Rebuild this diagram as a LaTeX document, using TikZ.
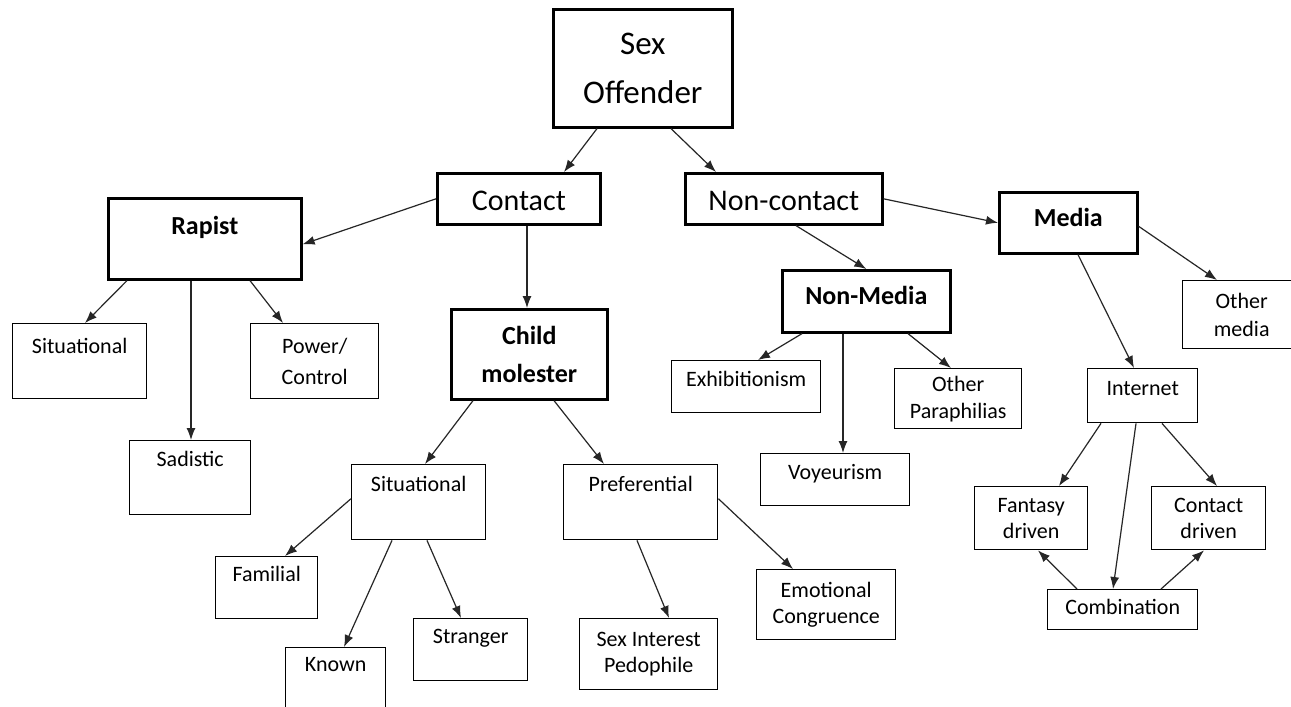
\documentclass[tikz,border=0pt]{standalone}
\usepackage{fontspec}
\setmainfont{Carlito}
\usetikzlibrary{arrows.meta}

\begin{document}
\begin{tikzpicture}[x=1pt, y=-1pt,
    box/.style={draw, rectangle, anchor=north west, inner sep=0pt, line width=1.4pt, align=center, font=\fontsize{22}{26}\selectfont},
    mainbox/.style={box, line width=2.6pt},
    boldtext/.style={font=\fontsize{26}{38}\selectfont\bfseries},
    link/.style={line width=1.2pt, draw=black!85, -{Latex[length=12pt,width=9pt]}}]
    \useasboundingbox[fill=white] (0,0) rectangle (1291,707); % page size

    % top levels
    \node[mainbox, minimum width=179pt, minimum height=118pt, font=\fontsize{33}{49}\selectfont] (offender) at (552,8) {Sex\\Offender};
    \node[mainbox, minimum width=163pt, minimum height=51pt, text height=37pt, text depth=14pt, font=\fontsize{30}{36}\selectfont] (contact) at (436,172) {Contact};
    \node[mainbox, minimum width=197pt, minimum height=51pt, text height=37pt, text depth=14pt, font=\fontsize{30}{36}\selectfont] (noncontact) at (684,172) {Non-contact};
    \node[mainbox, boldtext, minimum width=193pt, minimum height=81pt, text height=36pt, text depth=45pt] (rapist) at (107,197) {Rapist};
    \node[mainbox, boldtext, minimum width=156pt, minimum height=90pt] (child) at (450,308) {Child\\molester};
    \node[mainbox, boldtext, minimum width=138pt, minimum height=61pt, text height=34pt, text depth=27pt] (media) at (998,191) {Media};
    \node[mainbox, boldtext, minimum width=168pt, minimum height=62pt, text height=34pt, text depth=28pt] (nonmedia) at (781,269) {Non-Media};

    % rapist types
    \node[box, minimum width=134pt, minimum height=75pt, text height=30pt, text depth=45pt] (sitrapist) at (12,323) {Situational};
    \node[box, minimum width=128pt, minimum height=75pt, font=\fontsize{22}{31}\selectfont] (power) at (250,323) {Power/\\Control};
    \node[box, minimum width=121pt, minimum height=74pt, text height=26pt, text depth=48pt] (sadistic) at (129,440) {Sadistic};

    % child molester types
    \node[box, minimum width=134pt, minimum height=75pt, text height=27pt, text depth=48pt] (sitchild) at (351,464) {Situational};
    \node[box, minimum width=154pt, minimum height=75pt, text height=27pt, text depth=48pt] (preferential) at (563,464) {Preferential};
    \node[box, minimum width=102pt, minimum height=62pt, text height=25pt, text depth=37pt] (familial) at (215,556) {Familial};
    \node[box, minimum width=100pt, minimum height=78pt, text height=24pt, text depth=54pt] (known) at (285,647) {Known};
    \node[box, minimum width=114pt, minimum height=62pt, text height=25pt, text depth=37pt] (stranger) at (413,618) {Stranger};
    \node[box, minimum width=138pt, minimum height=71pt] (sexinterest) at (579,618) {Sex Interest\\Pedophile};
    \node[box, minimum width=139pt, minimum height=70pt] (emotional) at (756,569) {Emotional\\Congruence};

    % non-media types
    \node[box, minimum width=149pt, minimum height=52pt, text height=26pt, text depth=26pt] (exhib) at (671,360) {Exhibitionism};
    \node[box, minimum width=149pt, minimum height=52pt, text height=26pt, text depth=26pt] (voyeur) at (760,453) {Voyeurism};
    \node[box, minimum width=127pt, minimum height=60pt, font=\fontsize{22}{27}\selectfont] (otherpara) at (894,368) {Other\\Paraphilias};

    % media types
    \node[box, minimum width=118pt, minimum height=68pt, font=\fontsize{22}{28}\selectfont] (othermedia) at (1182,280) {Other\\media};
    \node[box, minimum width=110pt, minimum height=54pt, text height=27pt, text depth=27pt] (internet) at (1087,368) {Internet};
    \node[box, minimum width=113pt, minimum height=63pt] (fantasy) at (974,486) {Fantasy\\driven};
    \node[box, minimum width=114pt, minimum height=63pt] (contactdrv) at (1151,486) {Contact\\driven};
    \node[box, minimum width=150pt, minimum height=40pt, text height=25pt, text depth=15pt] (combination) at (1047,589) {Combination};

    % arrows
    \draw[link] ([xshift=45pt]offender.south west) -- ([xshift=128pt]contact.north west);
    \draw[link] ([xshift=119pt]offender.south west) -- ([xshift=32pt]noncontact.north west);
    \draw[link] (contact.west) -- ([yshift=-5.5pt]rapist.east);
    \draw[link] ([xshift=91pt]contact.south west) -- ([xshift=77pt]child.north west);
    \draw[link] (noncontact.east) -- (media.west);
    \draw[link] ([xshift=112pt]noncontact.south west) -- (nonmedia.north);
    \draw[link] ([yshift=-3.5pt]media.east) -- ([xshift=35pt]othermedia.north west);
    \draw[link] ([xshift=80pt]media.south west) -- ([xshift=47pt]internet.north west);
    \draw[link] ([xshift=20pt]rapist.south west) -- ([xshift=73pt]sitrapist.north west);
    \draw[link] ([xshift=84pt]rapist.south west) -- ([xshift=62pt]sadistic.north west);
    \draw[link] ([xshift=143pt]rapist.south west) -- ([xshift=33pt]power.north west);
    \draw[link] ([xshift=23pt]child.south west) -- ([xshift=74pt]sitchild.north west);
    \draw[link] ([xshift=104pt]child.south west) -- ([xshift=41pt]preferential.north west);
    \draw[link] ([yshift=3.5pt]sitchild.west) -- ([xshift=70pt]familial.north west);
    \draw[link] ([xshift=41pt]sitchild.south west) -- ([xshift=59pt]known.north west);
    \draw[link] ([xshift=76pt]sitchild.south west) -- ([xshift=48pt]stranger.north west);
    \draw[link] ([xshift=74pt]preferential.south west) -- ([xshift=90pt]sexinterest.north west);
    \draw[link] ([yshift=3.5pt]preferential.east) -- ([xshift=37pt]emotional.north west);
    \draw[link] ([xshift=21pt]nonmedia.south west) -- ([xshift=87pt]exhib.north west);
    \draw[link] ([xshift=62pt]nonmedia.south west) -- ([xshift=83pt]voyeur.north west);
    \draw[link] ([xshift=127pt]nonmedia.south west) -- ([xshift=57pt]otherpara.north west);
    \draw[link] ([xshift=14pt]internet.south west) -- ([xshift=85pt]fantasy.north west);
    \draw[link] ([xshift=49pt]internet.south west) -- ([xshift=66pt]combination.north west);
    \draw[link] ([xshift=75pt]internet.south west) -- ([xshift=66pt]contactdrv.north west);
    \draw[link] ([xshift=30pt]combination.north west) -- ([xshift=64pt]fantasy.south west);
    \draw[link] ([xshift=114pt]combination.north west) -- ([xshift=53pt]contactdrv.south west);
\end{tikzpicture}
\end{document}
